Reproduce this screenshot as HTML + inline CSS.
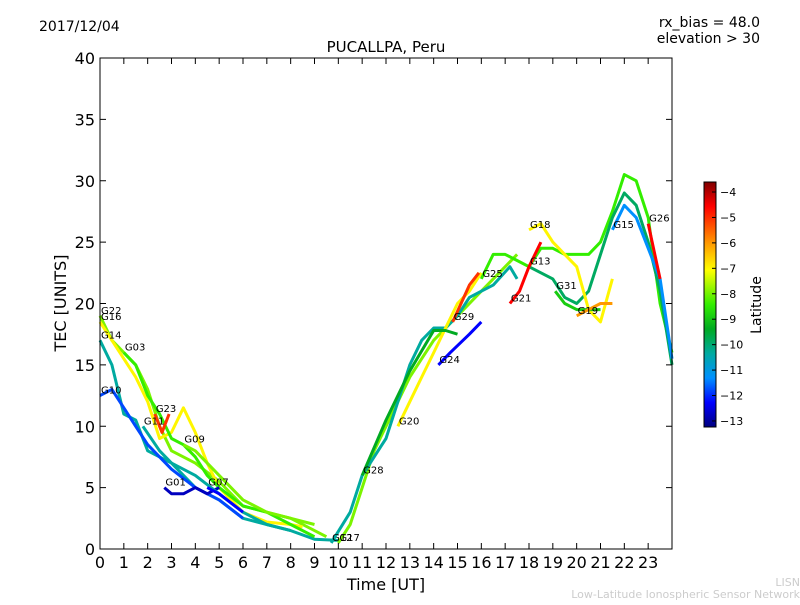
<!DOCTYPE html>
<html><head><meta charset="utf-8"><style>
body{margin:0;background:#fff;font-family:"Liberation Sans","DejaVu Sans",sans-serif}
svg text{font-family:"DejaVu Sans","Liberation Sans",sans-serif}
</style></head><body>
<svg id="c" width="800" height="600" viewBox="0 0 800 600" xmlns="http://www.w3.org/2000/svg">
<defs>
<linearGradient id="jet" x1="0" y1="0" x2="0" y2="1">
<stop offset="0" stop-color="#800000"/><stop offset="0.1" stop-color="#ff0000"/>
<stop offset="0.25" stop-color="#ff9900"/><stop offset="0.36" stop-color="#ffff00"/>
<stop offset="0.5" stop-color="#33ee00"/><stop offset="0.6" stop-color="#00aa22"/>
<stop offset="0.7" stop-color="#00aaa0"/><stop offset="0.8" stop-color="#0090ff"/>
<stop offset="0.9" stop-color="#0000ff"/><stop offset="1" stop-color="#00007f"/>
</linearGradient>
</defs>
<text x="39" y="31" font-size="14">2017/12/04</text>
<text x="760" y="27" font-size="14" text-anchor="end">rx_bias = 48.0</text>
<text x="760" y="43" font-size="14" text-anchor="end">elevation &gt; 30</text>
<text x="386" y="52" font-size="15" text-anchor="middle">PUCALLPA, Peru</text>
<g id="series"></g>
<g id="labels"></g>
<rect x="100" y="58" width="572" height="491" fill="none" stroke="#000"/>
<g id="axes"></g>
<text x="386" y="590" font-size="16" text-anchor="middle">Time [UT]</text>
<text transform="translate(66,303) rotate(-90)" font-size="16" text-anchor="middle">TEC [UNITS]</text>
<rect x="704" y="182" width="12" height="245" fill="url(#jet)" stroke="#000"/>
<g id="cbticks"></g>
<text transform="translate(761,305) rotate(-90)" font-size="14" text-anchor="middle">Latitude</text>
<text x="800" y="586" font-size="11" fill="#ccc" text-anchor="end">LISN</text>
<text x="800" y="598" font-size="11" fill="#ccc" text-anchor="end">Low-Latitude Ionospheric Sensor Network</text>
</svg>
<script>
const xTicks=[0,1,2,3,4,5,6,7,8,9,10,11,12,13,14,15,16,17,18,19,20,21,22,23];
const yTicks=[0,5,10,15,20,25,30,35,40];
const cbTicks=[-4,-5,-6,-7,-8,-9,-10,-11,-12,-13];
const satNames=["G22","G16","G14","G10","G03","G01","G17","G12","G20","G29","G24","G25","G13","G18","G15","G31","G21","G19","G26","G23","G11","G09","G28","G07"];
const satLat=[-8,-7,-10.5,-12,-8.5,-13,-8,-10.5,-7,-5,-12.5,-8.5,-10,-7,-11.5,-9,-4.5,-6,-4.5,-5,-10.5,-8,-9.5,-12.5];
const satTime=[
[0,0.5,1,1.5,2,2.5,3,3.5,4,5,6,7,8,9,9.5],
[0,0.5,1,1.5,2,2.5,3,3.5,4,4.5,5,6,7,8,8.5],
[0,0.5,1,1.5,2,3,4,5,6,7,8,9,10],
[0,0.5,1,1.5,2,3,4,5,6],
[1,1.5,2,2.5,3,3.5,4,4.5,5,6,7,8,9],
[2.7,3,3.5,4,4.5,5],
[10,10.5,11,11.5,12,12.5,13,13.5,14,15,16,17,17.5],
[9.7,10.5,11,12,12.5,13,13.5,14,14.5,15,15.5,16,16.5,17.2,17.5],
[12.5,13,13.5,14,14.5,15,15.5,16],
[14.8,15.5,15.9],
[14.2,14.7,15.5,16],
[16,16.5,17,17.5,18,18.5,19,19.5,20,20.5,21,21.5,22,22.5,23,23.5,24],
[18,19,19.5,20,20.5,21,21.5,22,22.5,23,23.5,24],
[18,18.5,19,19.5,20,20.5,21,21.5],
[21.5,22,22.5,23,23.5,24],
[19.1,19.5,20,20.5,21],
[17.2,17.6,18,18.5],
[20,20.5,21,21.5],
[23,23.5],
[2.3,2.6,2.9],
[1.8,2.5,3,4,5,6,7,8],
[3.5,4,5,6,7,8,9],
[11,12,13,14,14.5,15],
[4.5,5,6]];
const satTec=[
[19,17,16,15,13,10,8,7.5,7,5.5,3.5,3,2.5,1.5,1],
[18.5,17,15.5,14,12,9,9.5,11.5,9.5,7,5,3,2.2,2,1.8],
[17,15,11,10.5,8,7,5,4,2.5,2,1.5,0.8,0.7],
[12.5,13,11.5,10,8.5,6.5,5,4,2.5],
[16,15,12.5,11,9,8.5,7.5,6,5,3.5,3,2,1],
[5,4.5,4.5,5,4.5,5],
[0.5,2,5,8,10,12,14,15.5,17,19,21,23,24],
[0.5,3,6,9,12,15,17,18,18,19,20.5,21,21.5,23,22],
[10,12,14,16,18,20,21,22.5],
[18.5,21.5,22.5],
[15,16,17.5,18.5],
[22,24,24,23.5,23,24.5,24.5,24,24,24,25,27.5,30.5,30,27,20,16],
[23,22,20.5,20,21,24,27,29,28,25,21,15],
[26,26.5,25,24,23,19.5,18.5,22],
[26,28,27,24.5,22,15.5],
[21,20,19.5,19.5,19.5],
[20,21,23,25],
[19,19.5,20,20],
[26.5,22],
[11,9.5,11],
[10,8,7,6,4.5,3,2,1.5],
[8.5,8,6,4,3,2.5,2],
[6,10.5,14.5,17.8,17.8,17.5],
[5,4.5,3]];
const X=t=>100+t*23.833, Y=v=>549-v*12.275, CY=l=>192+(-4-l)*25.44;
function col(l){const f=(l+3.5)/-10;const s=[[0,[128,0,0]],[.1,[255,0,0]],[.25,[255,153,0]],[.36,[255,255,0]],[.5,[51,238,0]],[.6,[0,170,34]],[.7,[0,170,160]],[.8,[0,144,255]],[.9,[0,0,255]],[1,[0,0,127]]];
for(let i=1;i<s.length;i++){if(f<=s[i][0]){const a=s[i-1],b=s[i],k=(f-a[0])/(b[0]-a[0]);return 'rgb('+a[1].map((c,j)=>Math.round(c+(b[1][j]-c)*k)).join(',')+')';}}return 'rgb(0,0,127)';}
const NS='http://www.w3.org/2000/svg';
function mk(t,a,p){const e=document.createElementNS(NS,t);for(const k in a)e.setAttribute(k,a[k]);p.appendChild(e);return e;}
const sg=document.getElementById('series'),lg=document.getElementById('labels'),ax=document.getElementById('axes'),cb=document.getElementById('cbticks');
satNames.forEach((n,i)=>{
 const p=mk('polyline',{points:satTime[i].map((t,j)=>X(t).toFixed(1)+','+Y(satTec[i][j]).toFixed(1)).join(' '),fill:'none',stroke:col(satLat[i]),'stroke-width':3,'stroke-linejoin':'round'},sg);
 
 
 const l=mk('text',{x:X(satTime[i][0])+1,y:Y(satTec[i][0])-2,'font-size':10},lg);l.textContent=n;
 
 
});
xTicks.forEach(t=>{
 const k=mk('line',{x1:X(t),x2:X(t),y1:549,y2:543,stroke:'#000'},ax);
 
 
 mk('line',{x1:X(t),x2:X(t),y1:58,y2:64,stroke:'#000'},ax);
 const l=mk('text',{x:X(t),y:568,'font-size':16,'text-anchor':'middle'},ax);l.textContent=t;
 
 
});
yTicks.forEach(v=>{
 const k=mk('line',{x1:100,x2:106,y1:Y(v),y2:Y(v),stroke:'#000'},ax);
 
 
 mk('line',{x1:666,x2:672,y1:Y(v),y2:Y(v),stroke:'#000'},ax);
 const l=mk('text',{x:95,y:Y(v)+6,'font-size':16,'text-anchor':'end'},ax);l.textContent=v;
 
 
});
cbTicks.forEach(v=>{
 mk('line',{x1:712,x2:716,y1:CY(v),y2:CY(v),stroke:'#000'},cb);
 const l=mk('text',{x:720,y:CY(v)+4,'font-size':11},cb);l.textContent='\u2212'+Math.abs(v);
 
 
});
</script>
</body></html>
